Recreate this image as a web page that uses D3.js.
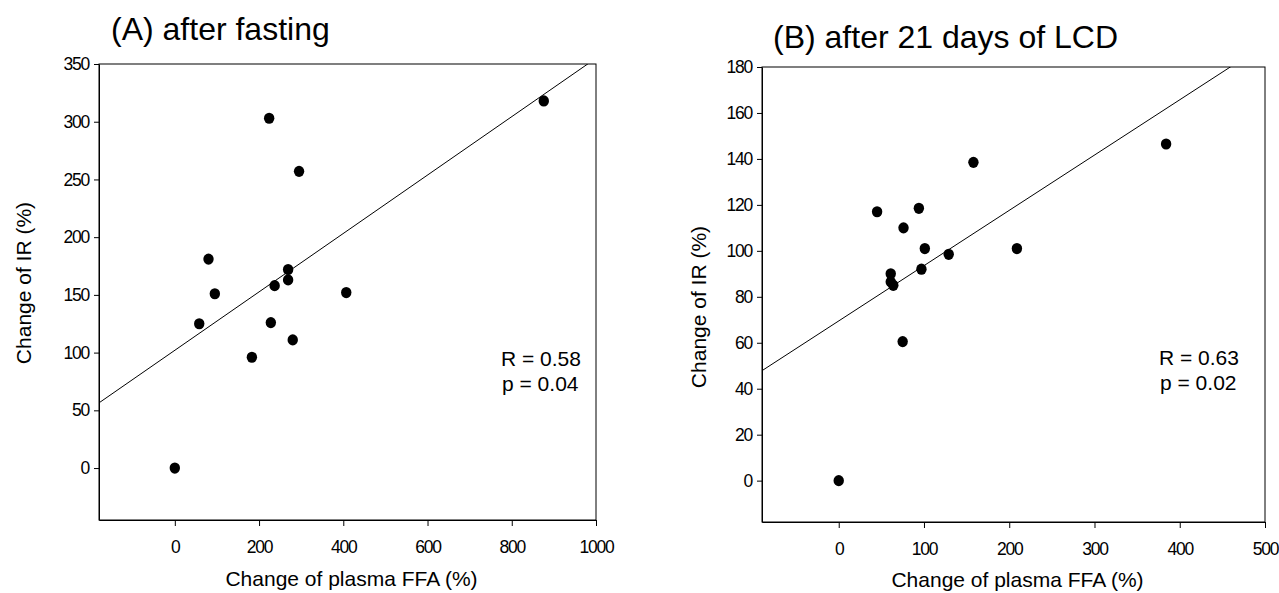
<!DOCTYPE html>
<html lang="en">
	<head>
		<meta charset="utf-8">
		<title>FFA vs IR</title>
		<script type="text/javascript" src="https://cdn.jsdelivr.net/npm/d3@7/dist/d3.min.js"></script>
		<style type="text/css">
			body { margin: 0; background: #fff; }
			svg { font-family: "Liberation Sans", Arial, sans-serif; }
			.tick text { font-size: 17.5px; letter-spacing: -1.2px; fill: #000; }
			.domain, .tick line { stroke: #000; stroke-width: 1; }
		</style>
	</head>

	<body>
		<script type="text/javascript">
			/* values */
			var ffaA = [876, 224, 295, 80, 95, 237, 269, 269, 407, 58, 228, 183, 280, 0];
			var irA  = [318, 303, 257, 181, 151, 158, 172, 163, 152, 125, 126, 96, 111, 0];
			var ffaB = [384, 158, 45, 94, 76, 101, 209, 129, 97, 61, 61, 64, 75, 0];
			var irB  = [146.5, 138.5, 117, 118.5, 110, 101, 101, 98.5, 92, 90, 86.5, 85, 60.5, 0];

			var titles = ["(A) after fasting", "(B) after 21 days of LCD"];
			var statsR = ["R = 0.58", "R = 0.63"];
			var statsP = ["p = 0.04", "p = 0.02"];
			/* fitted line: slope, intercept */
			var fitA = [0.253, 102];
			var fitB = [0.2406, 69.5];

			var xTicksA = [0, 200, 400, 600, 800, 1000];
			var yTicksA = [0, 50, 100, 150, 200, 250, 300, 350];
			var xTicksB = [0, 100, 200, 300, 400, 500];
			var yTicksB = [0, 20, 40, 60, 80, 100, 120, 140, 160, 180];

			var svg = d3.select("body")
				.append("svg")
				.attr("width", 1279)
				.attr("height", 593);

			var panels = [
				{ xs: ffaA, ys: irA, fit: fitA, title: titles[0], r: statsR[0], p: statsP[0],
				  xDom: [-180, 1000], yDom: [-45, 350], xTicks: xTicksA, yTicks: yTicksA,
				  left: 99, right: 596, top: 64, bottom: 520,
				  titleX: 111, titleY: 40, yLabX: 31, yLabY: 283, xLabY: 586, statX: 501, statY: 366 },
				{ xs: ffaB, ys: irB, fit: fitB, title: titles[1], r: statsR[1], p: statsP[1],
				  xDom: [-90, 500], yDom: [-18, 180], xTicks: xTicksB, yTicks: yTicksB,
				  left: 762, right: 1265, top: 67, bottom: 522,
				  titleX: 773, titleY: 48, yLabX: 706, yLabY: 307, xLabY: 587, statX: 1159, statY: 365 }
			];

			var fmt = d3.format("d");

			panels.forEach(function(pn, i) {
				var x = d3.scaleLinear().domain(pn.xDom).range([pn.left, pn.right]);
				var y = d3.scaleLinear().domain(pn.yDom).range([pn.bottom, pn.top]);
				var g = svg.append("g");

				// frame (top and right sides)
				g.append("rect")
					.attr("x", pn.left).attr("y", pn.top)
					.attr("width", pn.right - pn.left).attr("height", pn.bottom - pn.top)
					.attr("fill", "none").attr("stroke", "#000");

				g.append("g")
					.attr("transform", "translate(0," + pn.bottom + ")")
					.call(d3.axisBottom(x).tickValues(pn.xTicks).tickFormat(fmt)
						.tickSize(6).tickPadding(15).tickSizeOuter(0))
					.selectAll(".tick text").attr("dy", "0.71em");

				g.append("g")
					.attr("transform", "translate(" + pn.left + ",0)")
					.call(d3.axisLeft(y).tickValues(pn.yTicks).tickFormat(fmt)
						.tickSize(5).tickPadding(5).tickSizeOuter(0));

				// regression line, clipped to plot area
				var clipId = "clip" + i;
				svg.append("clipPath").attr("id", clipId)
					.append("rect")
					.attr("x", pn.left).attr("y", pn.top)
					.attr("width", pn.right - pn.left).attr("height", pn.bottom - pn.top);

				g.append("line")
					.attr("clip-path", "url(#" + clipId + ")")
					.attr("x1", x(pn.xDom[0])).attr("y1", y(pn.fit[0] * pn.xDom[0] + pn.fit[1]))
					.attr("x2", x(pn.xDom[1])).attr("y2", y(pn.fit[0] * pn.xDom[1] + pn.fit[1]))
					.attr("stroke", "#000").attr("stroke-width", 1);

				g.selectAll("ellipse")
					.data(pn.xs)
					.enter()
					.append("ellipse")
					.attr("cx", function(d) { return x(d); })
					.attr("cy", function(d, k) { return y(pn.ys[k]); })
					.attr("rx", 5.2).attr("ry", 5.6)
					.attr("fill", "#000");

				g.append("text")
					.attr("x", pn.titleX).attr("y", pn.titleY)
					.attr("font-size", "32px")
					.text(pn.title);

				g.append("text")
					.attr("transform", "translate(" + pn.yLabX + "," + pn.yLabY + ") rotate(-90)")
					.attr("text-anchor", "middle")
					.attr("font-size", "21px")
					.text("Change of IR (%)");

				g.append("text")
					.attr("x", (pn.left + pn.right) / 2 + 4).attr("y", pn.xLabY)
					.attr("text-anchor", "middle")
					.attr("font-size", "21px")
					.text("Change of plasma FFA (%)");

				g.append("text")
					.attr("x", pn.statX).attr("y", pn.statY)
					.attr("font-size", "21px")
					.text(pn.r);
				g.append("text")
					.attr("x", pn.statX + 1).attr("y", pn.statY + 25)
					.attr("font-size", "21px")
					.text(pn.p);
			});
		</script>
	</body>
</html>
